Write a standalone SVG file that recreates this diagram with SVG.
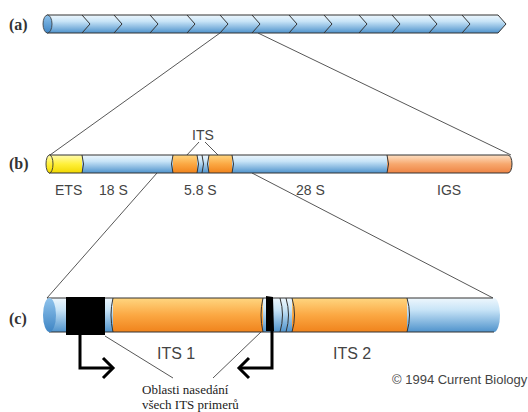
<svg xmlns="http://www.w3.org/2000/svg" width="528" height="412" viewBox="0 0 528 412">
<defs>
<linearGradient id="blue" x1="0" y1="0" x2="0" y2="1">
<stop offset="0" stop-color="#eef7fd"/><stop offset="0.35" stop-color="#c8e4f7"/><stop offset="1" stop-color="#4f93cc"/>
</linearGradient>
<linearGradient id="orange" x1="0" y1="0" x2="0" y2="1">
<stop offset="0" stop-color="#ffd680"/><stop offset="0.5" stop-color="#fba843"/><stop offset="1" stop-color="#f0831c"/>
</linearGradient>
<linearGradient id="salmon" x1="0" y1="0" x2="0" y2="1">
<stop offset="0" stop-color="#fde0c4"/><stop offset="0.5" stop-color="#f7a86e"/><stop offset="1" stop-color="#ee8444"/>
</linearGradient>
<linearGradient id="yellow" x1="0" y1="0" x2="0" y2="1">
<stop offset="0" stop-color="#fffbb0"/><stop offset="0.5" stop-color="#fff03a"/><stop offset="1" stop-color="#f2d800"/>
</linearGradient>
<linearGradient id="capblue" x1="0" y1="0" x2="0" y2="1">
<stop offset="0" stop-color="#8fc3ec"/><stop offset="1" stop-color="#3f85c4"/>
</linearGradient>
</defs>
<style>
.ol{stroke:#333;stroke-width:1;fill:none}
.thin{stroke:#444;stroke-width:0.9;fill:none}
.lbl{font-family:"Liberation Sans","Open Sans",sans-serif;fill:#444}
.pan{font-family:"Liberation Serif",serif;font-weight:bold;fill:#333;font-size:16px}
.note{font-family:"Liberation Serif",serif;fill:#222;font-size:13px}
.arr{stroke:#000;stroke-width:3;fill:none;stroke-linejoin:miter}
</style>

<g id="connectors">
<line class="thin" x1="220" y1="33" x2="50" y2="155"/>
<line class="thin" x1="258" y1="33" x2="511" y2="155"/>
<line class="thin" x1="157" y1="173" x2="47" y2="298"/>
<line class="thin" x1="252" y1="173" x2="493" y2="298"/>
<line class="thin" x1="199" y1="142" x2="186" y2="156"/>
<line class="thin" x1="205" y1="142" x2="219" y2="156"/>
<line class="thin" x1="105" y1="336" x2="173" y2="378"/>
<line class="thin" x1="262" y1="331" x2="213" y2="378"/>
</g>

<g id="bar-a">
<path d="M47,15 H498 L506,24 L498,33 H47 Z" fill="url(#blue)" stroke="#333" stroke-width="1"/>
<ellipse cx="47.5" cy="24" rx="4.5" ry="9" fill="url(#capblue)" stroke="#333" stroke-width="0.8"/>
<path class="ol" d="M82,15 L90,24 L82,33 M114,15 L122,24 L114,33 M150,15 L158,24 L150,33 M187,15 L195,24 L187,33 M220,15 L228,24 L220,33 M252,15 L260,24 L252,33 M289,15 L297,24 L289,33 M324,15 L332,24 L324,33 M359,15 L367,24 L359,33 M392,15 L400,24 L392,33 M429,15 L437,24 L429,33 M462,15 L470,24 L462,33"/>
<text class="pan" x="9" y="30">(a)</text>
</g>

<g id="bar-b">
<rect x="49" y="155" width="34" height="18" fill="url(#yellow)"/>
<rect x="82" y="155" width="92" height="18" fill="url(#blue)"/>
<rect x="173" y="155" width="24" height="18" fill="url(#orange)"/>
<rect x="197" y="155" width="13" height="18" fill="url(#blue)"/>
<rect x="209" y="155" width="23" height="18" fill="url(#orange)"/>
<rect x="232" y="155" width="156" height="18" fill="url(#blue)"/>
<path d="M387,155 H508 A4,9 0 0 1 508,173 H387 Z" fill="url(#salmon)"/>
<path class="ol" d="M49,155 H508 A4,9 0 0 1 508,173 H49"/>
<ellipse cx="49.5" cy="164" rx="3.5" ry="9" fill="url(#yellow)" stroke="#333" stroke-width="0.9"/>
<path class="ol" d="M82,155 Q85,164 82,173 M173,155 Q170,164 173,173 M197,155 Q200,164 197,173 M202,155 Q205,164 202,173 M209,155 Q206,164 209,173 M232,155 Q235,164 232,173 M387,155 Q390,164 387,173"/>
<text class="pan" x="9" y="169">(b)</text>
<text class="lbl" x="192" y="140" font-size="14">ITS</text>
<text class="lbl" x="55" y="195" font-size="14">ETS</text>
<text class="lbl" x="99" y="195" font-size="14">18 S</text>
<text class="lbl" x="184" y="195" font-size="14">5.8 S</text>
<text class="lbl" x="296" y="195" font-size="14">28 S</text>
<text class="lbl" x="437" y="195" font-size="14">IGS</text>
</g>

<g id="bar-c">
<rect x="49" y="298" width="65" height="34" fill="url(#blue)"/>
<rect x="113" y="298" width="151" height="34" fill="url(#orange)"/>
<rect x="263" y="298" width="30" height="34" fill="url(#blue)"/>
<rect x="292" y="298" width="116" height="34" fill="url(#orange)"/>
<path d="M407,298 H494 A6,17 0 0 1 494,332 H407 Z" fill="url(#blue)"/>
<path class="ol" d="M47,298 H493 M49,332 H494"/>
<ellipse cx="49.5" cy="315" rx="6.5" ry="17" fill="url(#capblue)"/>
<path class="ol" d="M113,298 Q109,315 113,332 M263,298 Q259,315 263,332 M280,298 Q285,315 280,332 M286,298 Q291,315 286,332 M292,298 Q297,315 292,332 M407,298 Q412,315 407,332"/>
<rect x="66" y="297" width="39" height="38" fill="#000"/>
<path d="M266,296 L273,297 L274,331 L266,331 Z" fill="#000"/>
<text class="pan" x="9" y="324">(c)</text>
<text class="lbl" x="157" y="359" font-size="16">ITS 1</text>
<text class="lbl" x="333" y="359" font-size="16">ITS 2</text>
<text class="lbl" x="392" y="384" font-size="13">© 1994 Current Biology</text>
</g>

<g id="primer-forward">
<path class="arr" d="M80,335 V368 H113"/>
<path class="arr" d="M103,358 L113,368 L103,378"/>
</g>
<g id="primer-reverse">
<path class="arr" d="M272,331 V368 H239"/>
<path class="arr" d="M249,358 L239,368 L249,378"/>
</g>

<g id="note">
<text class="note" x="142" y="394">Oblasti nasedání</text>
<text class="note" x="142" y="409">všech ITS primerů</text>
</g>
</svg>
